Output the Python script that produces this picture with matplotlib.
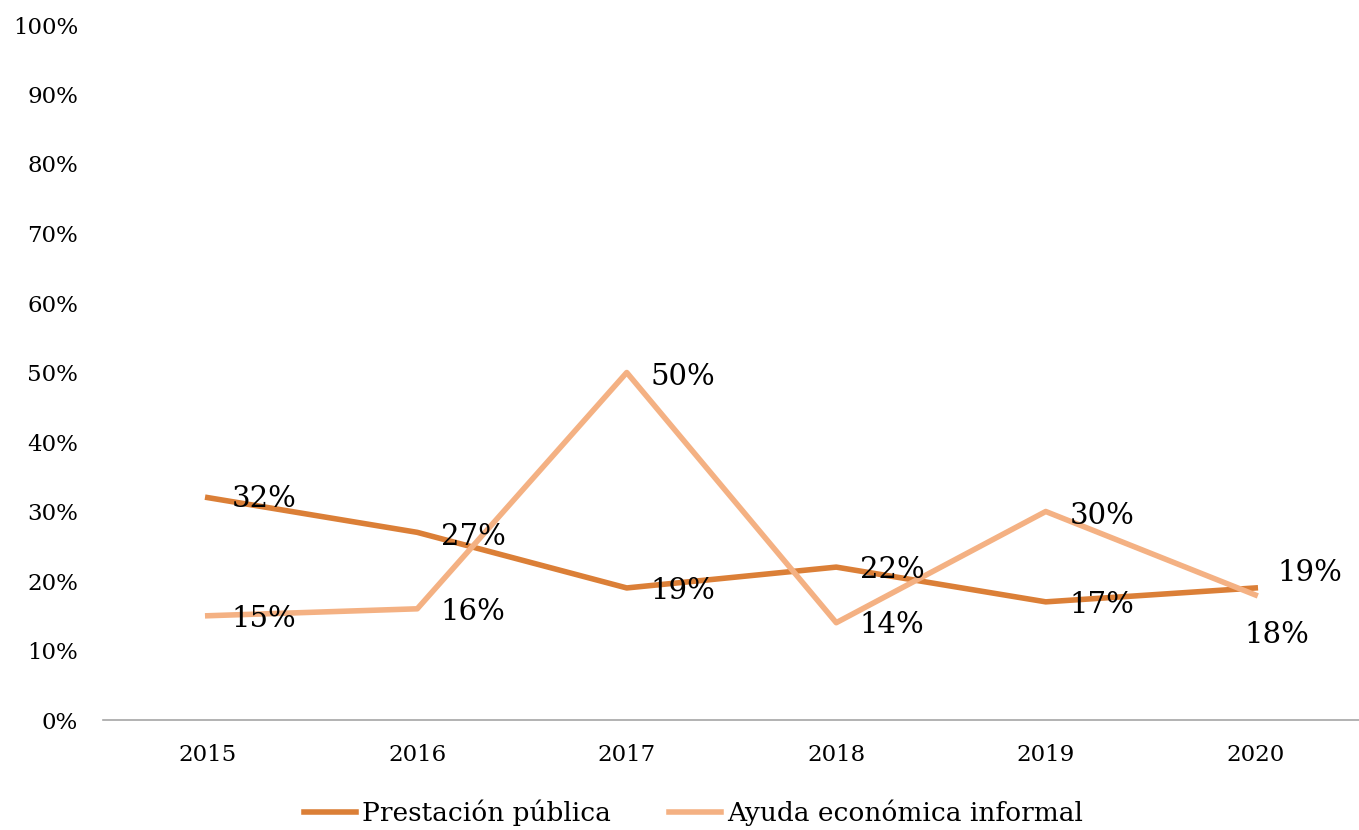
import matplotlib
matplotlib.use("Agg")
import matplotlib.pyplot as plt
from matplotlib.ticker import FuncFormatter

years = ["2015", "2016", "2017", "2018", "2019", "2020"]
prestacion = [0.32, 0.27, 0.19, 0.22, 0.17, 0.19]
ayuda = [0.15, 0.16, 0.50, 0.14, 0.30, 0.18]
series_names = ["Prestación pública", "Ayuda económica informal"]
colors = ["#DB7F37", "#F4B183"]

plt.rcParams['font.family'] = ['DejaVu Serif']

fig = plt.figure(figsize=(13.59, 8.3), dpi=100)
ax = fig.add_axes([103/1359, 1-720/830, (1360-103)/1359, 695/830])

x = list(range(len(years)))
ax.plot(x, prestacion, color=colors[0], lw=4.0, label=series_names[0])
ax.plot(x, ayuda, color=colors[1], lw=4.0, label=series_names[1])

# label offsets in points (dx, dy)
off_p = [(17, -1), (17, -3), (17, -2), (17, -2), (17, -2), (16, 11)]
off_a = [(17, -2), (17, -2), (17, -3), (17, -2), (17, -3), (-8, -29)]
for i, v in enumerate(prestacion):
    ax.annotate(f"{v*100:.0f}%", (x[i], v), xytext=off_p[i], textcoords='offset points',
                ha='left', va='center', fontsize=21)
for i, v in enumerate(ayuda):
    ax.annotate(f"{v*100:.0f}%", (x[i], v), xytext=off_a[i], textcoords='offset points',
                ha='left', va='center', fontsize=21)

ax.set_xlim(-0.5, 5.5)
ax.set_ylim(0, 1.0)
ax.set_yticks([i/10 for i in range(11)])
ax.yaxis.set_major_formatter(FuncFormatter(lambda v, p: f"{v*100:.0f}%"))
ax.set_xticks(x)
ax.set_xticklabels(years)
ax.tick_params(axis='both', length=0, labelsize=16.5)
ax.tick_params(axis='y', pad=18)
ax.tick_params(axis='x', pad=17)
for s in ['top', 'right', 'left']:
    ax.spines[s].set_visible(False)
ax.spines['bottom'].set_color('#A6A6A6')
ax.spines['bottom'].set_linewidth(1.2)

fig.legend(loc='lower center', bbox_to_anchor=(0.51, -0.024), ncol=2, frameon=False,
           fontsize=19, handlelength=2.0, handletextpad=0.2, columnspacing=2.2)

fig.savefig("out.png", dpi=100)
